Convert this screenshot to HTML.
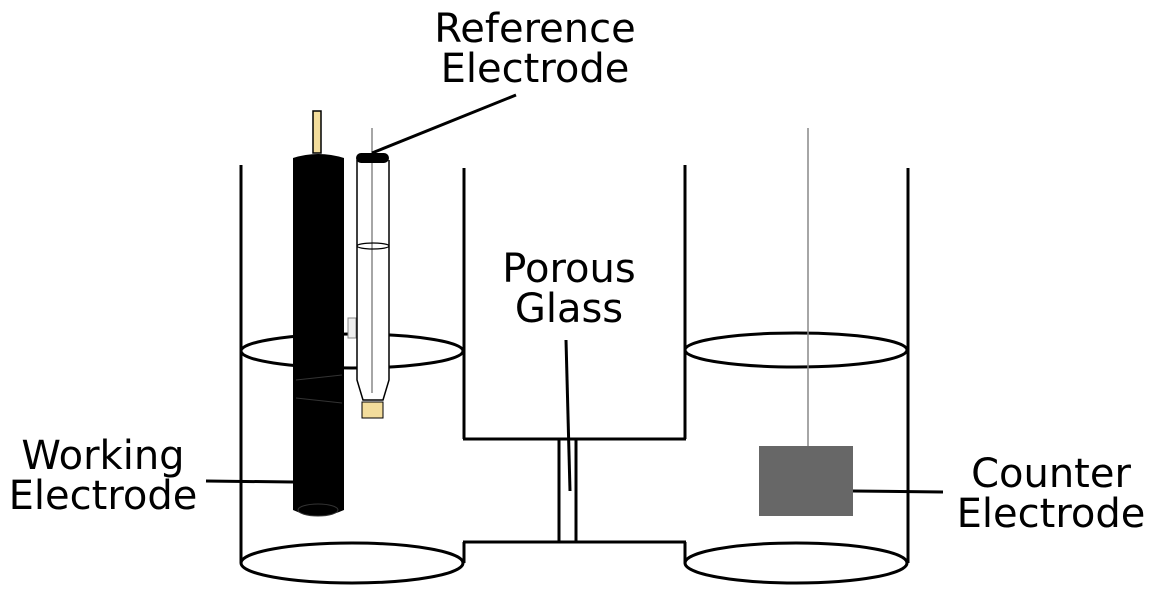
<!DOCTYPE html>
<html><head><meta charset="utf-8"><style>
html,body{margin:0;padding:0;background:#fff;}
svg{display:block;}
text{font-family:"DejaVu Sans","Liberation Sans",sans-serif;font-size:40px;fill:#000;text-anchor:middle;}
</style></head><body>
<svg width="1156" height="596" viewBox="0 0 1156 596">
<g fill="none" stroke="#000" stroke-width="3">
  <line x1="241" y1="165" x2="241" y2="563"/>
  <line x1="464" y1="168" x2="464" y2="439"/>
  <line x1="464" y1="542" x2="464" y2="563"/>
  <ellipse cx="352" cy="563" rx="111" ry="20" fill="#fff"/>
</g>
<g fill="none" stroke="#000" stroke-width="3">
  <line x1="908" y1="168" x2="908" y2="563"/>
  <line x1="685" y1="165" x2="685" y2="439"/>
  <line x1="685" y1="542" x2="685" y2="563"/>
  <ellipse cx="796" cy="563" rx="111" ry="20" fill="#fff"/>
  <ellipse cx="796" cy="350" rx="111" ry="17"/>
</g>
<g fill="none" stroke="#000" stroke-width="3">
  <line x1="463" y1="439" x2="686" y2="439"/>
  <line x1="463" y1="542" x2="686" y2="542"/>
  <line x1="559" y1="439" x2="559" y2="542"/>
  <line x1="576" y1="439" x2="576" y2="542"/>
  <line x1="566" y1="340" x2="570" y2="491"/>
</g>
<ellipse cx="352" cy="351" rx="111" ry="17" fill="none" stroke="#000" stroke-width="3"/>
<g>
  <rect x="313" y="111" width="8" height="42" fill="#f3dd9c" stroke="#000" stroke-width="1.5"/>
  <path d="M293,158 Q318,150 344,158 L344,510 Q318,522 293,510 Z" fill="#000"/>
  <ellipse cx="318" cy="510" rx="20" ry="6" fill="none" stroke="#333" stroke-width="1"/>
  <path d="M296,380 L342,375 M296,398 L342,403" stroke="#333" stroke-width="1"/>
</g>
<g>
  <rect x="348" y="318" width="8" height="20" fill="#eee" stroke="#888" stroke-width="1"/>
  <path d="M357,160 L357,380 L363,400 L383,400 L389,380 L389,160" fill="#fff" stroke="#000" stroke-width="1.5"/>
  <line x1="372" y1="128" x2="372" y2="393" stroke="#888" stroke-width="1.5"/>
  <ellipse cx="373" cy="246" rx="16" ry="3" fill="none" stroke="#000" stroke-width="1.2"/>
  <rect x="362" y="402" width="21" height="16" fill="#f3dd9c" stroke="#000" stroke-width="1"/>
  <rect x="356" y="153" width="33" height="10" rx="5" fill="#000"/>
</g>
<g>
  <line x1="808" y1="128" x2="808" y2="446" stroke="#888" stroke-width="1.5"/>
  <rect x="759" y="446" width="94" height="70" fill="#676767"/>
</g>
<g stroke="#000" stroke-width="3">
  <line x1="372" y1="153" x2="516" y2="95"/>
  <line x1="206" y1="481" x2="293" y2="482"/>
  <line x1="853" y1="491" x2="943" y2="492"/>
</g>
<text x="535" y="42"><tspan x="535">Reference</tspan><tspan x="535" y="82">Electrode</tspan></text>
<text x="569" y="282"><tspan x="569">Porous</tspan><tspan x="569" y="322">Glass</tspan></text>
<text x="103" y="469"><tspan x="103">Working</tspan><tspan x="103" y="509">Electrode</tspan></text>
<text x="1051" y="487"><tspan x="1051">Counter</tspan><tspan x="1051" y="527">Electrode</tspan></text>
</svg>
</body></html>
